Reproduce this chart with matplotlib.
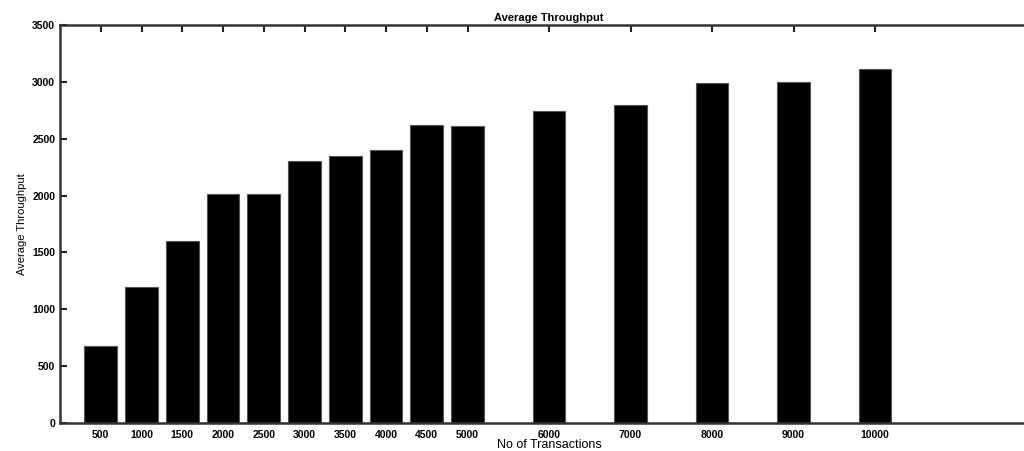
import matplotlib
matplotlib.use("Agg")
import matplotlib.pyplot as plt

transactions = [500, 1000, 1500, 2000, 2500, 3000, 3500, 4000, 4500, 5000,
                6000, 7000, 8000, 9000, 10000]
throughput = [680, 1200, 1600, 2010, 2010, 2300, 2350, 2400, 2620, 2610,
              2740, 2800, 2990, 3000, 3110]
tick_labels = [str(t) for t in transactions]
y_ticks = [0, 500, 1000, 1500, 2000, 2500, 3000, 3500]

plt.rcParams['font.family'] = ['Liberation Sans', 'DejaVu Sans']

fig = plt.figure(figsize=(10.24, 4.51), dpi=100)
ax = fig.add_axes([60 / 1024, 28 / 451, 978 / 1024, 398 / 451])

# bars sit above the inward bottom ticks, which they hide
ax.bar(transactions, throughput, width=400, color='black',
       edgecolor='#555555', linewidth=0.8, zorder=3)

ax.set_xlim(0, 12000)
ax.set_ylim(0, 3500)
ax.set_xticks(transactions)
ax.set_xticklabels(tick_labels)
ax.set_yticks(y_ticks)

ax.tick_params(axis='both', direction='in', length=5, width=1.5,
               labelsize=7.5, top=True, right=True, color='#222222')
ax.tick_params(axis='x', pad=5)
for lbl in ax.get_xticklabels() + ax.get_yticklabels():
    lbl.set_fontweight('bold')

for s in ax.spines.values():
    s.set_linewidth(1.8)
    s.set_color('#333333')
    s.set_zorder(4)

ax.set_title('Average Throughput', fontsize=8, fontweight='bold', pad=3)
ax.set_xlabel('No of Transactions', fontsize=9, labelpad=-1)
ax.set_ylabel('Average Throughput', fontsize=8, labelpad=4)

fig.savefig('out.png', dpi=100)
